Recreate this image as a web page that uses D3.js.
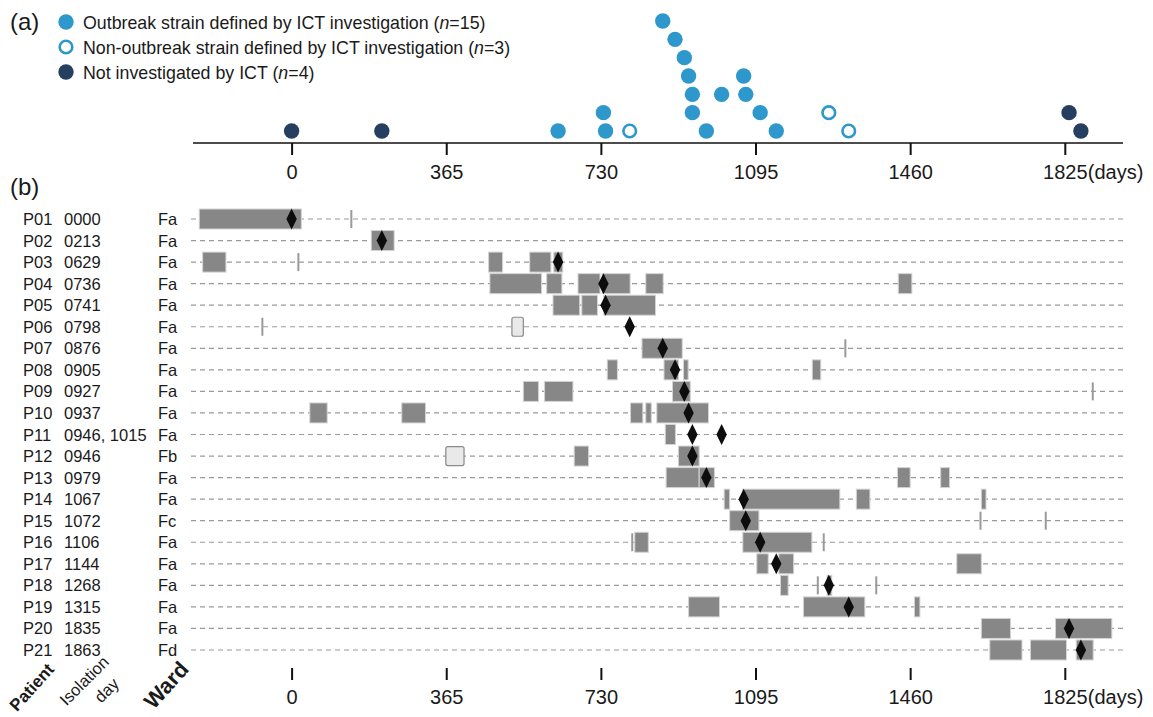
<!DOCTYPE html>
<html><head><meta charset="utf-8">
<script src="https://cdn.jsdelivr.net/npm/d3@7"></script>
<style>
body{margin:0;background:#fff}
svg{display:block}
text{font-family:"Liberation Sans",Arial,sans-serif;fill:#1a1a1a}
</style>
</head><body><svg id="c" width="1153" height="717"></svg>
<script>
// ---------------- DATA ----------------
const patients = ["P01","P02","P03","P04","P05","P06","P07","P08","P09","P10","P11","P12","P13","P14","P15","P16","P17","P18","P19","P20","P21"];
const isolationLabels = ["0000","0213","0629","0736","0741","0798","0876","0905","0927","0937","0946, 1015","0946","0979","1067","1072","1106","1144","1268","1315","1835","1863"];
const wards = ["Fa","Fa","Fa","Fa","Fa","Fa","Fa","Fa","Fa","Fa","Fa","Fb","Fa","Fa","Fc","Fa","Fa","Fa","Fa","Fa","Fd"];
const isolationDays = [[0],[213],[629],[736],[741],[798],[876],[905],[927],[937],[946,1015],[946],[979],[1067],[1072],[1106],[1144],[1268],[1315],[1835],[1863]];
// strain status: O = outbreak strain, N = non-outbreak strain, X = not investigated by ICT
const strainStatus = ["X","X","O","O","O","N","O","O","O","O","O","O","O","O","O","O","O","N","N","X","X"];
// stacking level of each isolate dot in panel (a), same order as isolationDays flattened
const dotStack = [1,1,1,2,1,1,7,6,5,4,3,3,2,1,4,3,2,1,2,1,2,1];
// hospital stays (days) in ward
const stays = [
  [[-218,23]],
  [[188,242]],
  [[-210,-155],[465,498],[562,612],[619,640]],
  [[468,590],[602,638],[676,728],[733,799],[836,877],[1432,1464]],
  [[617,680],[685,722],[737,859]],
  [],
  [[827,922]],
  [[745,769],[879,913],[925,936],[1229,1249]],
  [[547,583],[597,664],[899,941]],
  [[43,84],[260,316],[800,829],[836,849],[862,984]],
  [[882,906]],
  [[667,701],[913,962]],
  [[884,962],[962,998],[1430,1460],[1532,1553]],
  [[1021,1034],[1064,1294],[1333,1365],[1628,1639]],
  [[1034,1103]],
  [[810,842],[1065,1228]],
  [[1098,1125],[1150,1185],[1570,1628]],
  [[1154,1172],[1264,1275]],
  [[937,1010],[1208,1353],[1470,1483]],
  [[1628,1697],[1803,1936]],
  [[1648,1724],[1744,1829],[1852,1892]]
];
// one-day visits
const visits = [[141],[],[16],[],[],[-69],[1307],[],[1891],[],[],[],[],[],[1626,1780],[804,1256],[],[1242,1380],[],[],[]];
// stays in other wards
const otherStays = [[],[],[],[],[],[[520,547]],[],[],[],[],[],[[364,407]],[],[],[],[],[],[],[],[],[]];
const tickDays = [0,365,730,1095,1460,1825];
const legendItems = [
  {status:"O", pre:"Outbreak strain defined by ICT investigation (", n:"15"},
  {status:"N", pre:"Non-outbreak strain defined by ICT investigation (", n:"3"},
  {status:"X", pre:"Not investigated by ICT (", n:"4"}
];

// ---------------- DRAW ----------------
const svg = d3.select("#c");
const BLUE = "#2e97cc", NAVY = "#263f60";
const NARROW = "'Liberation Sans Narrow','Arial Narrow','Liberation Sans',sans-serif";
const x = d3.scaleLinear().domain([0,1825]).range([291.6,1064.8]);
const yRow = d3.scalePoint().domain(patients).range([219,650]);
const yStack = d3.scaleLinear().domain([1,7]).range([131,21]);

// panel labels
svg.append("text").attr("x",10).attr("y",30).attr("font-size",24).text("(a)");
svg.append("text").attr("x",10).attr("y",195).attr("font-size",24).text("(b)");

function drawDot(g, status, cx, cy){
  if(status==="N"){
    g.append("circle").attr("cx",cx).attr("cy",cy).attr("r",6.3)
      .attr("fill","#fff").attr("stroke",BLUE).attr("stroke-width",2.6);
  } else {
    g.append("circle").attr("cx",cx).attr("cy",cy).attr("r",7.7)
      .attr("fill",status==="O"?BLUE:NAVY);
  }
}

// legend
const legY = d3.scalePoint().domain(legendItems.map(d=>d.status)).range([22,72]);
legendItems.forEach(it=>{
  const g = svg.append("g");
  drawDot(g,it.status,66,legY(it.status));
  const t = g.append("text").attr("x",83).attr("y",legY(it.status)+6.5).attr("font-size",17.8);
  t.append("tspan").text(it.pre);
  t.append("tspan").attr("font-style","italic").text("n");
  t.append("tspan").text("="+it.n+")");
});

// panel (a) dots
const dots = [];
isolationDays.forEach((arr,i)=>arr.forEach(d=>dots.push({day:d,status:strainStatus[i]})));
dots.forEach((d,k)=>d.level=dotStack[k]);
const gDots = svg.append("g");
dots.forEach(d=>drawDot(gDots,d.status,x(d.day),yStack(d.level)));

// axes
const fmt = d3.format("d");
function makeAxis(){
  return d3.axisBottom(x).tickValues(tickDays).tickFormat(fmt).tickSize(12).tickPadding(10).tickSizeOuter(0);
}
function styleAxis(ax){
  ax.selectAll(".tick line").attr("stroke","#111").attr("stroke-width",2);
  ax.selectAll(".tick text").attr("font-size",20).attr("fill","#1a1a1a")
    .attr("font-family","'Liberation Sans',Arial,sans-serif");
  ax.append("text").attr("x",x(1825)+23).attr("y",12+10).attr("dy","0.71em")
    .attr("font-size",20).attr("text-anchor","start").attr("fill","#1a1a1a")
    .attr("font-family","'Liberation Sans',Arial,sans-serif").text("(days)");
}
const topAxis = svg.append("g").attr("transform","translate(0,143)").call(makeAxis());
topAxis.select(".domain").remove();
topAxis.append("line").attr("x1",193).attr("x2",1123).attr("stroke","#111").attr("stroke-width",1.6);
styleAxis(topAxis);

// panel (b) rows
const gRows = svg.append("g");
patients.forEach((p,i)=>{
  const cy = yRow(p);
  gRows.append("line").attr("x1",191).attr("x2",1125).attr("y1",cy).attr("y2",cy)
    .attr("stroke","#9a9a9a").attr("stroke-width",1.2).attr("stroke-dasharray","5,4");
  gRows.append("text").attr("x",23).attr("y",cy+6).attr("font-size",16.5).text(p);
  gRows.append("text").attr("x",64).attr("y",cy+6).attr("font-size",16.5).text(isolationLabels[i]);
  gRows.append("text").attr("x",158).attr("y",cy+6).attr("font-size",16.5).text(wards[i]);
  const h = 20;
  stays[i].forEach(s=>{
    gRows.append("rect").attr("x",x(s[0])).attr("y",cy-h/2).attr("width",x(s[1])-x(s[0])).attr("height",h)
      .attr("fill","#878787").attr("stroke","#d4d4d4").attr("stroke-width",1);
  });
  otherStays[i].forEach(s=>{
    gRows.append("rect").attr("x",x(s[0])).attr("y",cy-h/2+0.5).attr("width",x(s[1])-x(s[0])).attr("height",h-1)
      .attr("rx",2).attr("fill","#e9e9e9").attr("stroke","#8a8a8a").attr("stroke-width",1.2);
  });
  visits[i].forEach(v=>{
    gRows.append("rect").attr("x",x(v)-1).attr("y",cy-9).attr("width",2).attr("height",18)
      .attr("fill","#9a9a9a");
  });
  isolationDays[i].forEach(d=>{
    const cx = x(d);
    gRows.append("path").attr("d",`M${cx},${cy-10.5}L${cx+5.2},${cy}L${cx},${cy+10.5}L${cx-5.2},${cy}Z`)
      .attr("fill","#0d0d0d");
  });
});

// bottom axis
const botAxis = svg.append("g").attr("transform","translate(0,668)").call(makeAxis());
botAxis.select(".domain").remove();
styleAxis(botAxis);

// rotated column headers
function rot(txt, xx, yy, size, weight, ang){
  svg.append("text").attr("transform",`translate(${xx},${yy}) rotate(${ang})`)
    .attr("text-anchor","end").attr("font-size",size).attr("font-weight",weight)
    .attr("font-family",NARROW).text(txt);
}
rot("Patient",55,670,17,"bold",-48);
rot("Isolation",110,663,16.5,"normal",-45);
rot("day",120,685,16.5,"normal",-45);
rot("Ward",190,670,22,"bold",-48);
</script>
</body></html>
